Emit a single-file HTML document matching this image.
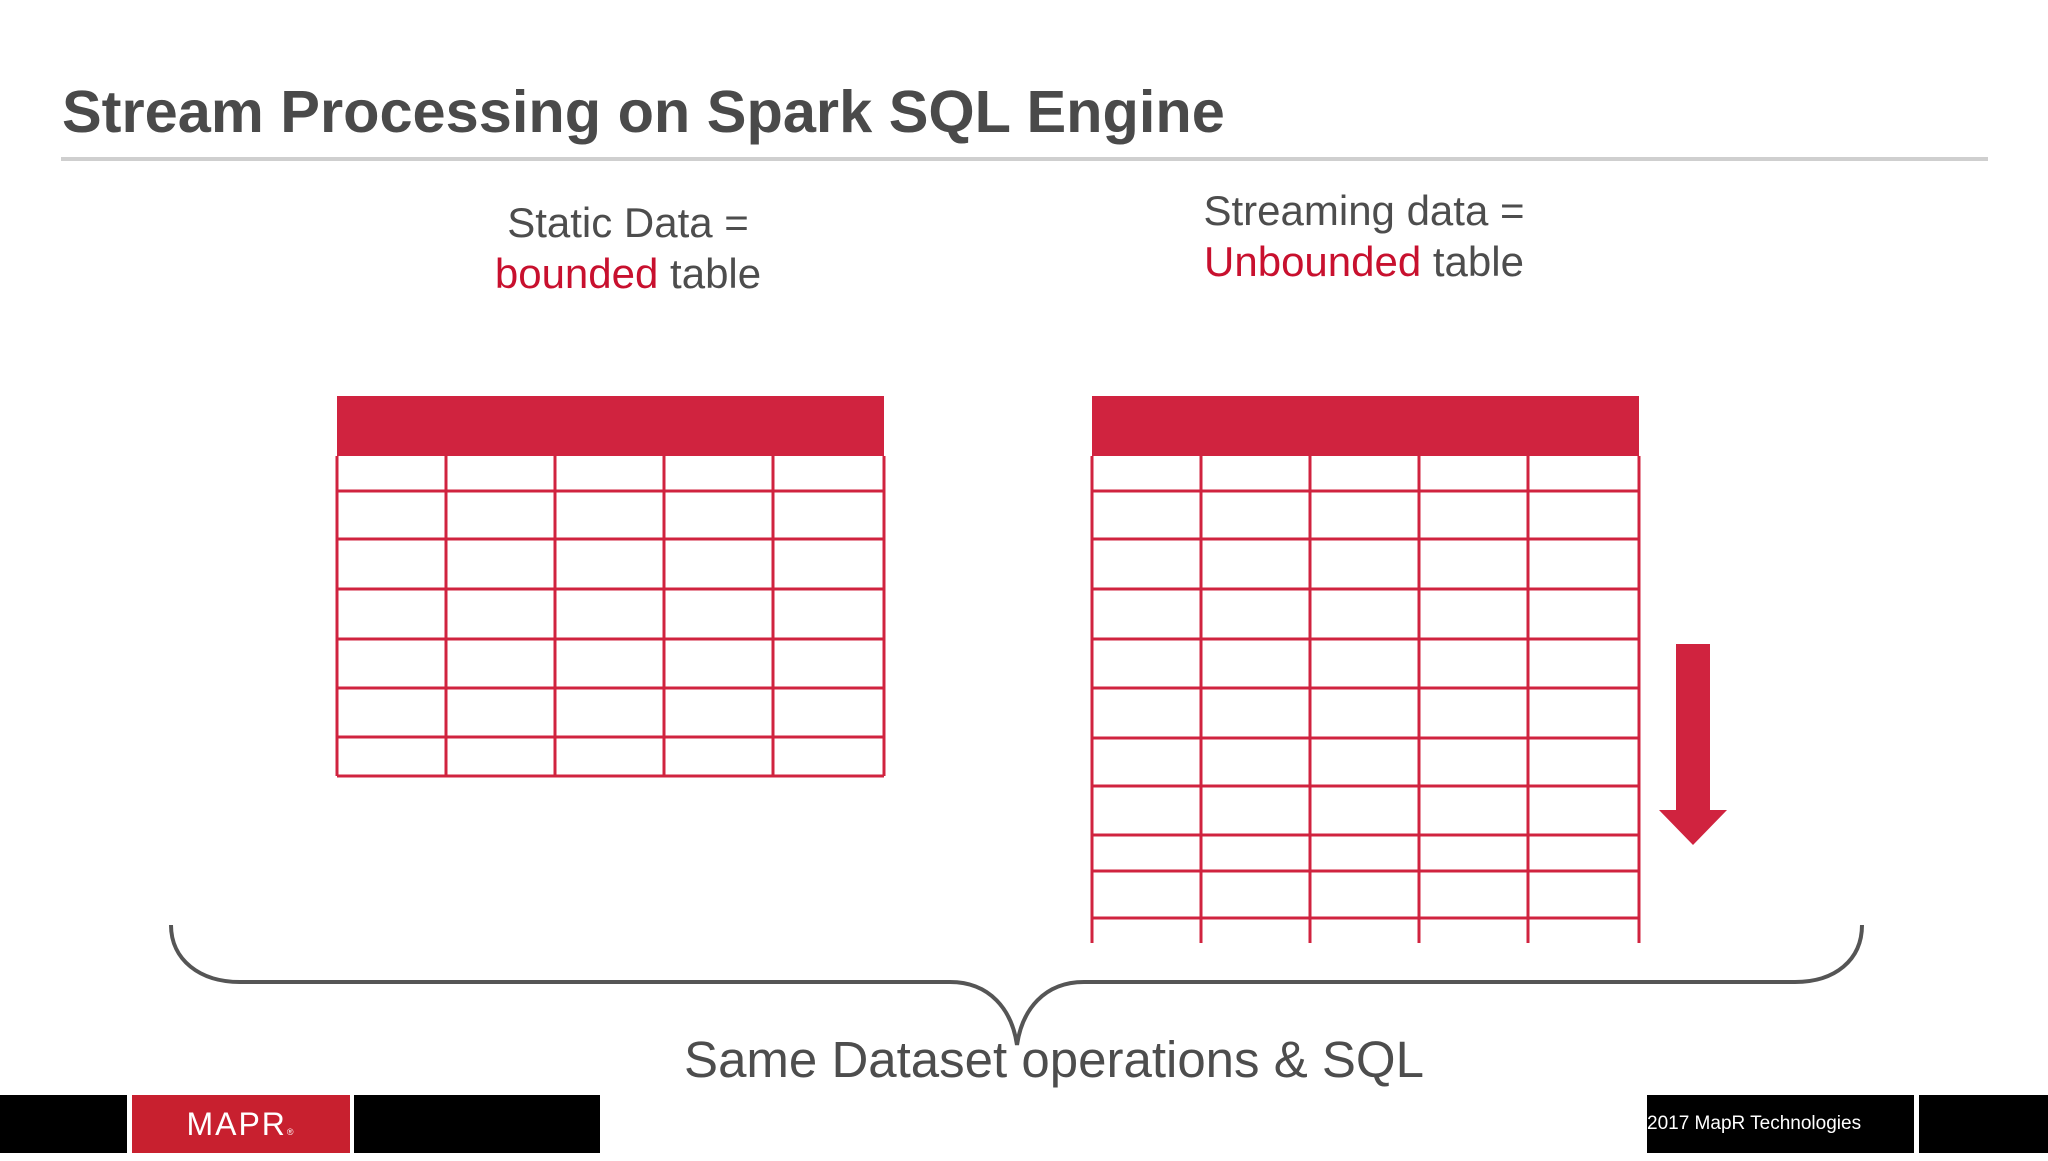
<!DOCTYPE html>
<html><head><meta charset="utf-8">
<style>
html,body{margin:0;padding:0;background:#fff;}
body{width:2048px;height:1153px;position:relative;overflow:hidden;font-family:"Liberation Sans",sans-serif;}
.t{position:absolute;white-space:nowrap;}
.red{color:#c8102e;}
</style></head><body>
<div class="t" style="left:62px;top:77px;font-size:59.5px;font-weight:bold;color:#4a4a4a;">Stream Processing on Spark SQL Engine</div>
<div style="position:absolute;left:61px;top:157px;width:1927px;height:4px;background:#cfcfcf;"></div>
<div class="t" style="left:428px;width:400px;text-align:center;top:197px;font-size:42px;line-height:51px;color:#4d4d4d;">Static Data =<br><span class="red">bounded</span> table</div>
<div class="t" style="left:1164px;width:400px;text-align:center;top:185px;font-size:42px;line-height:51px;color:#4d4d4d;">Streaming data =<br><span class="red">Unbounded</span> table</div>
<svg id="g" width="2048" height="1153" style="position:absolute;left:0;top:0;"></svg>
<div class="t" style="left:654px;width:800px;text-align:center;top:1030px;font-size:51px;color:#4d4d4d;">Same Dataset operations &amp; SQL</div>
<div style="position:absolute;left:0;top:1095px;width:127px;height:58px;background:#000;"></div>
<div style="position:absolute;left:132px;top:1095px;width:218px;height:58px;background:#c8202f;color:#fff;font-size:32px;line-height:58px;text-align:center;letter-spacing:2px;">MAPR<span style="font-size:9px">®</span></div>
<div style="position:absolute;left:354px;top:1095px;width:246px;height:58px;background:#000;"></div>
<div style="position:absolute;left:1647px;top:1095px;width:267px;height:58px;background:#000;color:#fff;font-size:19px;line-height:58px;white-space:nowrap;">2017 MapR Technologies</div>
<div style="position:absolute;left:1919px;top:1095px;width:129px;height:58px;background:#000;"></div>
<script>
const leftCols=[337,446,555,664,773,884];
const leftRows=[491,539,589,639,688,737,776];
const rightCols=[1092,1201,1310,1419,1528,1639];
const rightRows=[491,539,589,639,688,738,786,835,871,918];
const headerTop=396, headerBottom=456;
const rightBottom=943;
const g=document.getElementById('g');
const NS='http://www.w3.org/2000/svg';
const C='#d0233f';
function mk(tag,a){const e=document.createElementNS(NS,tag);for(const k in a)e.setAttribute(k,a[k]);g.appendChild(e);return e;}
function table(cols,rows,bottom,name){
  const x0=cols[0],x1=cols[cols.length-1];
  const h=mk('rect',{x:x0,y:headerTop,width:x1-x0,height:headerBottom-headerTop,fill:C});
  
  
  cols.forEach(x=>{const l=mk('line',{x1:x,y1:headerBottom,x2:x,y2:bottom,stroke:C,'stroke-width':3});
    
    });
  rows.forEach(y=>{const l=mk('line',{x1:x0,y1:y,x2:x1,y2:y,stroke:C,'stroke-width':3});
    
    });
}
table(leftCols,leftRows,776,'static-table');
table(rightCols,rightRows,rightBottom,'streaming-table');
const ar=mk('path',{d:'M1676 644 H1710 V810 H1727 L1693 845 L1659 810 H1676 Z',fill:C});


const br=mk('path',{d:'M171 925 C171 960 200 982 240 982 L950 982 C990 982 1012 1010 1017 1045 C1022 1010 1044 982 1084 982 L1795 982 C1835 982 1862 960 1862 925',fill:'none',stroke:'#555','stroke-width':4});


</script>
</body></html>
